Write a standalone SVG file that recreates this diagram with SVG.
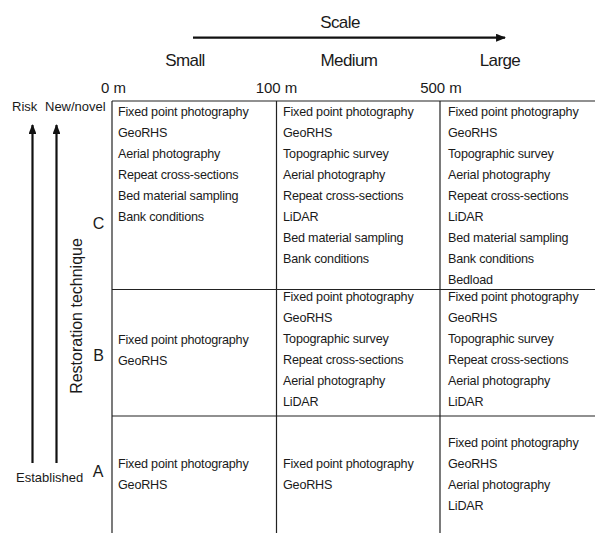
<svg xmlns="http://www.w3.org/2000/svg" width="595" height="533" viewBox="0 0 595 533">
  <style>
    text { font-family: "Liberation Sans", Arial, sans-serif; fill: #1a1a1a; }
    .head { font-size: 17px; letter-spacing: -0.6px; }
    .dist { font-size: 15px; }
    .label { font-size: 16px; }
    .axis { font-size: 13px; }
    .cell { font-size: 12.6px; letter-spacing: -0.2px; }
    .grid { stroke: #222; stroke-width: 1.2; fill: none; }
    .arrow { stroke: #111; stroke-width: 2.2; fill: none; }
  </style>
  <defs>
    <marker id="head" viewBox="0 0 10 8" refX="9" refY="4" markerWidth="4.5" markerHeight="3.6" markerUnits="strokeWidth" orient="auto">
      <path d="M0,0 L10,4 L0,8 Z" fill="#111"/>
    </marker>
  </defs>

  <!-- Scale header -->
  <g id="scale-header">
    <text class="head" x="340" y="28" text-anchor="middle">Scale</text>
    <text class="head" x="185" y="66" text-anchor="middle">Small</text>
    <text class="head" x="349" y="66" text-anchor="middle">Medium</text>
    <text class="head" x="500" y="66" text-anchor="middle">Large</text>
    <text class="dist" x="113.5" y="92.5" text-anchor="middle">0 m</text>
    <text class="dist" x="276.5" y="92.5" text-anchor="middle">100 m</text>
    <text class="dist" x="441" y="92.5" text-anchor="middle">500 m</text>
  </g>

  <!-- Side axis labels -->
  <g id="side-axis">
    <text class="axis" x="12" y="111">Risk</text>
    <text class="axis" x="45" y="111">New/novel</text>
    <text class="axis" x="16" y="482">Established</text>
    <text class="label" transform="translate(81.5,316) rotate(-90)" text-anchor="middle">Restoration technique</text>
    <text class="label" x="98.5" y="229" text-anchor="middle">C</text>
    <text class="label" x="98.5" y="361" text-anchor="middle">B</text>
    <text class="label" x="98" y="476.5" text-anchor="middle">A</text>
  </g>

  <!-- Connectors: arrows and grid -->
  <g id="connectors">
    <line class="arrow" x1="193" y1="37.7" x2="505" y2="37.7" marker-end="url(#head)"/>
    <line class="arrow" x1="32.5" y1="463" x2="32.5" y2="125" marker-end="url(#head)"/>
    <line class="arrow" x1="56.5" y1="463" x2="56.5" y2="125" marker-end="url(#head)"/>
    <line class="grid" x1="112" y1="101" x2="595" y2="101"/>
    <line class="grid" x1="112" y1="289.5" x2="595" y2="289.5"/>
    <line class="grid" x1="112" y1="416" x2="595" y2="416"/>
    <line class="grid" x1="112" y1="101" x2="112" y2="533"/>
    <line class="grid" x1="276.5" y1="101" x2="276.5" y2="533"/>
    <line class="grid" x1="440" y1="101" x2="440" y2="533"/>
  </g>

  <!-- Row C -->
  <g id="cell-c-small">
    <text class="cell" x="118" y="115.5">Fixed point photography</text>
    <text class="cell" x="118" y="136.5">GeoRHS</text>
    <text class="cell" x="118" y="157.5">Aerial photography</text>
    <text class="cell" x="118" y="178.5">Repeat cross-sections</text>
    <text class="cell" x="118" y="199.5">Bed material sampling</text>
    <text class="cell" x="118" y="220.5">Bank conditions</text>
  </g>
  <g id="cell-c-medium">
    <text class="cell" x="283" y="115.5">Fixed point photography</text>
    <text class="cell" x="283" y="136.5">GeoRHS</text>
    <text class="cell" x="283" y="157.5">Topographic survey</text>
    <text class="cell" x="283" y="178.5">Aerial photography</text>
    <text class="cell" x="283" y="199.5">Repeat cross-sections</text>
    <text class="cell" x="283" y="220.5">LiDAR</text>
    <text class="cell" x="283" y="241.5">Bed material sampling</text>
    <text class="cell" x="283" y="262.5">Bank conditions</text>
  </g>
  <g id="cell-c-large">
    <text class="cell" x="448" y="115.5">Fixed point photography</text>
    <text class="cell" x="448" y="136.5">GeoRHS</text>
    <text class="cell" x="448" y="157.5">Topographic survey</text>
    <text class="cell" x="448" y="178.5">Aerial photography</text>
    <text class="cell" x="448" y="199.5">Repeat cross-sections</text>
    <text class="cell" x="448" y="220.5">LiDAR</text>
    <text class="cell" x="448" y="241.5">Bed material sampling</text>
    <text class="cell" x="448" y="262.5">Bank conditions</text>
    <text class="cell" x="448" y="283.5">Bedload</text>
  </g>

  <!-- Row B -->
  <g id="cell-b-small">
    <text class="cell" x="118" y="344">Fixed point photography</text>
    <text class="cell" x="118" y="365">GeoRHS</text>
  </g>
  <g id="cell-b-medium">
    <text class="cell" x="283" y="300.5">Fixed point photography</text>
    <text class="cell" x="283" y="321.5">GeoRHS</text>
    <text class="cell" x="283" y="342.5">Topographic survey</text>
    <text class="cell" x="283" y="363.5">Repeat cross-sections</text>
    <text class="cell" x="283" y="384.5">Aerial photography</text>
    <text class="cell" x="283" y="405.5">LiDAR</text>
  </g>
  <g id="cell-b-large">
    <text class="cell" x="448" y="300.5">Fixed point photography</text>
    <text class="cell" x="448" y="321.5">GeoRHS</text>
    <text class="cell" x="448" y="342.5">Topographic survey</text>
    <text class="cell" x="448" y="363.5">Repeat cross-sections</text>
    <text class="cell" x="448" y="384.5">Aerial photography</text>
    <text class="cell" x="448" y="405.5">LiDAR</text>
  </g>

  <!-- Row A -->
  <g id="cell-a-small">
    <text class="cell" x="118" y="467.5">Fixed point photography</text>
    <text class="cell" x="118" y="488.5">GeoRHS</text>
  </g>
  <g id="cell-a-medium">
    <text class="cell" x="283" y="467.5">Fixed point photography</text>
    <text class="cell" x="283" y="488.5">GeoRHS</text>
  </g>
  <g id="cell-a-large">
    <text class="cell" x="448" y="446.5">Fixed point photography</text>
    <text class="cell" x="448" y="467.5">GeoRHS</text>
    <text class="cell" x="448" y="488.5">Aerial photography</text>
    <text class="cell" x="448" y="509.5">LiDAR</text>
  </g>
</svg>
